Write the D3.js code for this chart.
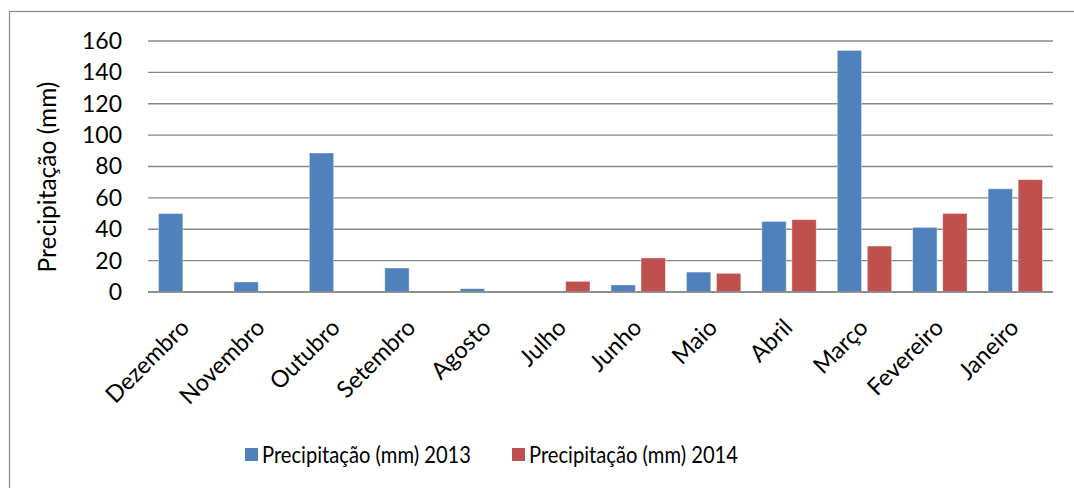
<!DOCTYPE html>
<html>
<head>
<meta charset="utf-8">
<script src="https://cdn.jsdelivr.net/npm/d3@7"></script>
<style>
  html, body { margin: 0; padding: 0; background: #fff; }
  svg { display: block; font-family: Lato, "Open Sans", sans-serif; }
</style>
</head>
<body>
<svg id="chart" width="1074" height="488"></svg>
<script>
// Monthly precipitation (mm), ordered as shown on the axis
const months = ["Dezembro", "Novembro", "Outubro", "Setembro", "Agosto", "Julho",
                "Junho", "Maio", "Abril", "Março", "Fevereiro", "Janeiro"];
const precip2013 = [50, 6.4, 88.6, 15.3, 2.1, 0, 4.5, 12.7, 45, 154, 41.2, 65.8];
const precip2014 = [0, 0, 0, 0, 0, 6.8, 21.7, 11.9, 46.1, 29.3, 50.1, 71.6];
const seriesNames = ["Precipitação (mm) 2013", "Precipitação (mm) 2014"];
const seriesColors = ["#4F81BD", "#C0504D"];
const yTicks = [0, 20, 40, 60, 80, 100, 120, 140, 160];

const svg = d3.select("#chart");
const W = 1074, H = 488;
const m = { left: 148, right: 1053, top: 41, bottom: 292 };
const FONT = "Lato, 'Open Sans', sans-serif";

// chart frame
svg.append("rect")
  .attr("x", 9.5).attr("y", 11.5)
  .attr("width", W + 10).attr("height", H + 10)
  .attr("fill", "#fff").attr("stroke", "#888").attr("stroke-width", 1.2);

const x = d3.scaleBand().domain(months).range([m.left, m.right]).padding(0);
const y = d3.scaleLinear().domain([0, 160]).range([m.bottom, m.top]);

// y labels
const yAxis = d3.axisLeft(y).tickValues(yTicks).tickSize(0).tickPadding(26);
const gy = svg.append("g").attr("transform", `translate(${m.left},0)`).call(yAxis);
gy.select(".domain").remove();
gy.selectAll("text")
  .attr("font-size", 23).attr("fill", "#000")
  .attr("font-family", FONT);

// horizontal gridlines
svg.append("g").selectAll("line").data(yTicks).join("line")
  .attr("x1", m.left).attr("x2", m.right)
  .attr("y1", d => y(d)).attr("y2", d => y(d))
  .attr("stroke", "#878787").attr("stroke-width", 1.4);

// grouped bars
const inner = d3.scaleBand().domain([0, 1])
  .range([0, x.bandwidth()]).paddingInner(0.19).paddingOuter(0.35);
const series = [precip2013, precip2014];
series.forEach((vals, si) => {
  svg.append("g").selectAll("rect").data(vals.map((v, i) => ({ m: months[i], v })))
    .join("rect")
    .filter(d => d.v > 0)
    .attr("x", d => x(d.m) + inner(si))
    .attr("y", d => y(d.v))
    .attr("width", inner.bandwidth())
    .attr("height", d => y(0) - y(d.v))
    .attr("fill", seriesColors[si])
    .attr("stroke", "#fff").attr("stroke-opacity", 0.5).attr("stroke-width", 0.8);
});

// baseline drawn over the bars
svg.append("line")
  .attr("x1", m.left).attr("x2", m.right)
  .attr("y1", y(0)).attr("y2", y(0))
  .attr("stroke", "#878787").attr("stroke-width", 1.4);

// rotated category labels
const xAxis = d3.axisBottom(x).tickSize(0).tickPadding(0);
const gx = svg.append("g").attr("transform", `translate(0,${m.bottom})`).call(xAxis);
gx.select(".domain").remove();
gx.selectAll("text")
  .attr("font-size", 23.5).attr("fill", "#000")
  .attr("font-family", FONT)
  .attr("text-anchor", "end")
  .attr("dy", null)
  .attr("transform", "translate(5,37) rotate(-45)");

// y axis title
svg.append("text")
  .attr("transform", `translate(56,177) rotate(-90)`)
  .attr("text-anchor", "middle")
  .attr("font-size", 24.5).attr("fill", "#000")
  .text("Precipitação (mm)");

// legend
const legendX = [245, 512];
const lg = svg.append("g");
seriesNames.forEach((name, i) => {
  lg.append("rect")
    .attr("x", legendX[i]).attr("y", 448)
    .attr("width", 13).attr("height", 13)
    .attr("fill", seriesColors[i]);
  lg.append("text")
    .attr("x", legendX[i] + 17).attr("y", 463)
    .attr("font-size", 23).attr("fill", "#000")
    .attr("textLength", 209).attr("lengthAdjust", "spacingAndGlyphs")
    .text(name);
});
</script>
</body>
</html>
